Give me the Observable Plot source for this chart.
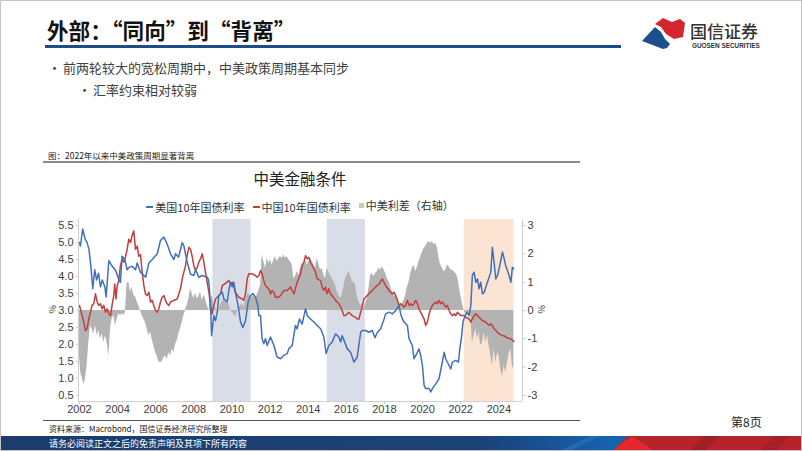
<!DOCTYPE html>
<html><head><meta charset="utf-8">
<script src="https://cdn.jsdelivr.net/npm/d3@7"></script>
<script src="https://cdn.jsdelivr.net/npm/@observablehq/plot@0.6"></script>
<style>
body{margin:0;background:#fff;}
#slide{position:relative;width:802px;height:451px;overflow:hidden;background:#fff;font-family:"Noto Sans CJK SC","Noto Sans",sans-serif;}
.abs{position:absolute;white-space:nowrap;}
#border{position:absolute;left:0;top:0;width:800px;height:449px;border:1px solid #c4c4c4;pointer-events:none;}
.lg{display:inline-flex;align-items:center;margin:0 4px;}
.lg i{display:inline-block;width:7px;height:2px;margin-right:2px;}
</style></head><body>
<div id="slide">
  <div class="abs" style="left:47px;top:17px;font-size:21.6px;font-weight:700;color:#111;line-height:26px;">外部：“同向”到“背离”</div>
  <div class="abs" style="left:45px;top:45px;width:576px;height:3px;background:#1d4c86;"></div>
  <svg class="abs" style="left:630px;top:12px;" width="170" height="42">
    <polygon points="25,12 33,6 42,10 50,7 55,11 53,25 44,27 36,22 31,15" fill="#d7252f"/>
    <polygon points="12,29 25,15 31,20 35,27 40,32 37,36 33,37" fill="#1d4f8c"/>
    <text x="60" y="26" font-size="17" font-weight="500" fill="#333" font-family="Noto Sans CJK SC">国信证券</text>
    <text x="62" y="36" font-size="6.4" font-weight="700" fill="#333" font-family="Liberation Sans, Arial">GUOSEN SECURITIES</text>
  </svg>
  <div class="abs" style="left:48px;top:58px;font-size:13px;color:#404040;line-height:20px;">•</div>
  <div class="abs" style="left:63px;top:58px;font-size:13px;color:#404040;line-height:20px;">前两轮较大的宽松周期中，中美政策周期基本同步</div>
  <div class="abs" style="left:78px;top:80px;font-size:13px;color:#404040;line-height:20px;">•</div>
  <div class="abs" style="left:93px;top:80px;font-size:13px;color:#404040;line-height:20px;">汇率约束相对较弱</div>
  <div class="abs" style="left:48px;top:149px;font-size:8.5px;color:#222;line-height:12px;">图：2022年以来中美政策周期显著背离</div>
  <div class="abs" style="left:43px;top:161px;width:537px;height:2px;background:#8c8c8c;"></div>
  <div class="abs" style="left:40px;top:168px;width:520px;text-align:center;font-size:15.5px;color:#222;line-height:20px;">中美金融条件</div>
  <div class="abs" style="left:40px;top:196px;width:520px;text-align:center;font-size:11px;color:#333;line-height:15px;">
    <span class="lg"><i style="background:#4270b8"></i>美国10年国债利率</span><span class="lg"><i style="background:#c0403f"></i>中国10年国债利率</span><span class="lg"><i style="background:#c8c8c8;width:5px;height:5px"></i>中美利差（右轴）</span>
  </div>
  <div class="abs" style="left:48px;top:303px;font-size:9px;color:#333;transform:rotate(90deg);">%</div>
  <div class="abs" style="left:537px;top:303px;font-size:9px;color:#333;transform:rotate(90deg);">%</div>
  <div id="chart" class="abs" style="left:40px;top:212px;"></div>
  <div class="abs" style="left:43px;top:420px;width:537px;height:1px;background:#555;"></div>
  <div class="abs" style="left:49px;top:423px;font-size:8px;color:#222;line-height:11px;">资料来源：Macrobond，国信证券经济研究所整理</div>
  <div class="abs" style="left:731px;top:414px;font-size:12px;color:#222;line-height:16px;">第8页</div>
  <svg class="abs" style="left:0;top:436px;" width="802" height="15">
    <defs><linearGradient id="bg" x1="0" x2="1"><stop offset="0" stop-color="#1b3c6c"/><stop offset="0.6" stop-color="#1b4278"/><stop offset="0.78" stop-color="#1466b6"/></linearGradient></defs>
    <rect x="0" y="0" width="802" height="15" fill="url(#bg)"/>
    <polygon points="560,15 590,0 600,0 570,15" fill="#2a74c4" opacity="0.6"/>
    <polygon points="612,15 628,0 802,0 802,15" fill="#b5232b"/>
    <polygon points="612,15 632,0 654,15" fill="#e5262e"/>
    <polygon points="690,15 705,0 720,0 705,15" fill="#9a1d24" opacity="0.7"/>
    <polygon points="760,15 775,0 790,0 775,15" fill="#9a1d24" opacity="0.6"/>
    <text x="49" y="11" font-size="9" fill="#fff" font-family="Noto Sans CJK SC">请务必阅读正文之后的免责声明及其项下所有内容</text>
  </svg>
  <div id="border"></div>
</div>
<script>
// ---- data (decimal year, value) ----
const xDomain = [2001.95, 2025.24];
const leftDomain = [0.32, 5.68];
const xTicks = [2002, 2004, 2006, 2008, 2010, 2012, 2014, 2016, 2018, 2020, 2022, 2024];
const leftTicks = [0.5, 1.0, 1.5, 2.0, 2.5, 3.0, 3.5, 4.0, 4.5, 5.0, 5.5];
const rightTicks = [-3, -2, -1, 0, 1, 2, 3];
const easingPeriods = [[2009.0, 2011.0], [2015.0, 2017.0]];
const divergencePeriods = [[2022.18, 2024.8]];

const us10y = [
[2002.0,5.0],[2002.05,4.9],[2002.17,5.4],[2002.3,5.1],[2002.4,5.0],[2002.5,4.8],[2002.6,4.3],[2002.7,3.64],[2002.8,4.2],[2002.9,3.9],
[2003.0,4.1],[2003.1,3.7],[2003.2,3.9],[2003.33,3.7],[2003.4,3.4],[2003.54,4.47],[2003.72,4.3],[2003.9,4.18],[2004.07,3.9],[2004.15,3.83],
[2004.24,4.6],[2004.38,4.5],[2004.5,4.2],[2004.6,4.27],[2004.77,4.3],[2004.94,4.2],[2005.03,4.4],[2005.2,4.13],[2005.38,4.03],[2005.47,3.98],
[2005.64,4.4],[2005.82,4.5],[2006.08,4.67],[2006.25,5.06],[2006.43,5.16],[2006.6,4.96],[2006.78,4.67],[2006.95,4.5],[2007.04,4.67],[2007.2,4.57],
[2007.39,5.0],[2007.48,4.9],[2007.65,4.42],[2007.83,4.07],[2008.0,4.03],[2008.09,4.2],[2008.26,3.98],[2008.44,4.03],[2008.7,3.98],[2008.75,3.93],
[2008.79,3.83],[2008.88,3.15],[2008.93,2.26],[2009.05,2.85],[2009.14,2.7],[2009.23,2.95],[2009.31,3.44],[2009.49,3.54],[2009.58,3.34],[2009.75,3.25],
[2009.84,3.6],[2009.92,3.83],[2010.01,3.7],[2010.1,3.83],[2010.18,3.54],[2010.32,3.15],[2010.45,2.66],[2010.57,2.5],[2010.71,2.7],[2010.85,3.25],
[2010.97,3.44],[2011.1,3.5],[2011.23,3.4],[2011.36,3.15],[2011.41,2.85],[2011.5,2.85],[2011.58,2.17],[2011.67,2.02],[2011.76,2.17],[2011.85,1.97],
[2012.02,2.22],[2012.2,1.97],[2012.37,1.63],[2012.55,1.58],[2012.72,1.68],[2012.9,1.73],[2012.98,1.87],[2013.16,1.97],[2013.33,2.56],[2013.42,2.46],
[2013.54,2.75],[2013.68,2.6],[2013.86,3.05],[2013.95,2.85],[2014.12,2.75],[2014.3,2.66],[2014.47,2.56],[2014.65,2.46],[2014.82,2.22],[2014.94,1.73],
[2015.08,1.97],[2015.26,2.07],[2015.43,2.31],[2015.61,2.22],[2015.7,2.07],[2015.78,2.26],[2016.05,1.87],[2016.22,1.77],[2016.4,1.48],[2016.57,1.63],
[2016.75,2.36],[2016.83,2.41],[2017.01,2.41],[2017.18,2.36],[2017.36,2.41],[2017.5,2.2],[2017.63,2.36],[2017.8,2.46],[2017.98,2.75],[2018.06,2.9],
[2018.24,2.95],[2018.41,2.9],[2018.59,3.0],[2018.76,3.15],[2018.85,2.9],[2018.94,2.75],[2019.03,2.66],[2019.2,2.56],[2019.29,2.17],[2019.46,1.97],
[2019.55,1.58],[2019.64,1.68],[2019.73,1.77],[2019.81,1.87],[2019.9,1.68],[2019.99,1.38],[2020.08,0.79],[2020.16,0.7],[2020.34,0.7],[2020.43,0.6],
[2020.51,0.7],[2020.69,0.84],[2020.86,0.99],[2021.0,1.38],[2021.13,1.77],[2021.21,1.58],[2021.39,1.38],[2021.48,1.28],[2021.56,1.48],[2021.74,1.53],
[2021.88,1.48],[2021.95,1.87],[2022.05,2.26],[2022.12,2.66],[2022.23,2.85],[2022.35,2.95],[2022.44,2.85],[2022.53,3.15],[2022.61,4.03],[2022.7,4.13],
[2022.79,3.83],[2022.88,3.93],[2022.96,3.64],[2023.05,3.83],[2023.14,3.49],[2023.23,3.54],[2023.4,3.83],[2023.58,4.13],[2023.66,4.86],[2023.75,4.42],
[2023.84,3.93],[2023.93,4.03],[2024.01,4.23],[2024.19,4.72],[2024.28,4.52],[2024.36,4.32],[2024.54,4.03],[2024.63,3.83],[2024.71,4.27],[2024.78,4.23]
];

const china10y = [
[2002.0,3.15],[2002.14,2.85],[2002.23,2.66],[2002.31,2.41],[2002.4,2.46],[2002.49,2.75],[2002.58,2.95],[2002.66,3.15],[2002.75,3.2],[2002.84,3.49],
[2002.93,3.25],[2003.01,3.15],[2003.1,3.2],[2003.19,3.05],[2003.28,3.15],[2003.36,2.95],[2003.45,3.05],[2003.54,2.9],[2003.63,2.85],[2003.71,3.15],
[2003.8,3.44],[2003.85,3.78],[2003.92,3.34],[2003.98,3.73],[2004.06,3.88],[2004.15,4.32],[2004.24,4.52],[2004.33,4.42],[2004.41,4.57],[2004.5,4.8],
[2004.59,5.1],[2004.68,5.0],[2004.76,5.2],[2004.85,5.35],[2004.94,4.8],[2005.03,4.9],[2005.11,4.6],[2005.2,4.65],[2005.29,4.13],[2005.38,3.73],
[2005.46,3.49],[2005.55,3.44],[2005.64,3.54],[2005.73,3.25],[2005.81,3.3],[2005.9,3.15],[2005.99,3.0],[2006.08,2.95],[2006.16,3.05],[2006.25,3.25],
[2006.34,3.39],[2006.43,3.44],[2006.51,3.3],[2006.6,3.2],[2006.69,3.15],[2006.78,3.25],[2006.95,3.3],[2007.13,3.34],[2007.3,3.64],[2007.39,3.93],
[2007.56,4.32],[2007.65,4.62],[2007.74,4.86],[2007.83,4.8],[2007.91,4.6],[2008.0,4.32],[2008.09,4.18],[2008.18,4.27],[2008.26,4.42],[2008.35,4.52],
[2008.44,4.67],[2008.53,4.42],[2008.61,4.13],[2008.7,3.83],[2008.79,3.54],[2008.88,3.1],[2008.96,2.9],[2009.05,3.15],[2009.14,3.34],[2009.31,3.44],
[2009.4,3.49],[2009.49,3.73],[2009.66,3.8],[2009.83,3.88],[2009.92,3.78],[2010.01,3.83],[2010.1,3.69],[2010.18,3.54],[2010.36,3.39],[2010.53,3.34],
[2010.62,3.3],[2010.71,3.49],[2010.8,3.93],[2010.88,4.08],[2011.06,4.08],[2011.23,4.03],[2011.32,3.98],[2011.41,4.03],[2011.5,4.18],[2011.58,4.08],
[2011.67,3.88],[2011.76,3.73],[2011.93,3.64],[2012.02,3.49],[2012.11,3.59],[2012.2,3.54],[2012.28,3.39],[2012.46,3.39],[2012.55,3.44],[2012.72,3.59],
[2012.9,3.59],[2013.07,3.69],[2013.16,3.59],[2013.25,3.49],[2013.42,3.83],[2013.6,4.08],[2013.68,4.32],[2013.77,4.42],[2013.86,4.62],[2013.95,4.52],
[2014.03,4.57],[2014.12,4.42],[2014.21,4.32],[2014.3,4.23],[2014.38,4.13],[2014.47,3.93],[2014.65,3.88],[2014.73,3.69],[2014.82,3.59],[2014.91,3.69],
[2014.99,3.49],[2015.08,3.64],[2015.17,3.49],[2015.26,3.44],[2015.43,3.3],[2015.61,3.2],[2015.78,3.0],[2015.87,2.85],[2015.96,2.85],[2016.13,2.95],
[2016.31,2.85],[2016.48,2.8],[2016.57,2.75],[2016.66,2.75],[2016.75,2.95],[2016.83,3.1],[2016.92,3.34],[2017.01,3.39],[2017.18,3.49],[2017.36,3.59],
[2017.53,3.69],[2017.71,3.78],[2017.89,3.93],[2018.06,3.73],[2018.24,3.59],[2018.41,3.49],[2018.5,3.54],[2018.59,3.44],[2018.68,3.3],[2018.76,3.15],
[2018.85,3.2],[2018.94,3.15],[2019.03,3.1],[2019.11,3.15],[2019.2,3.3],[2019.29,3.15],[2019.38,3.2],[2019.46,3.15],[2019.55,3.2],[2019.64,3.3],
[2019.73,3.2],[2019.81,3.05],[2019.99,2.85],[2020.08,2.75],[2020.16,2.56],[2020.25,2.66],[2020.34,2.9],[2020.43,3.05],[2020.51,3.15],[2020.69,3.25],
[2020.78,3.2],[2020.86,3.3],[2020.95,3.2],[2021.04,3.25],[2021.21,3.1],[2021.3,3.15],[2021.39,3.0],[2021.48,2.9],[2021.56,2.85],[2021.65,2.9],
[2021.74,2.85],[2021.83,2.95],[2021.91,2.9],[2022.0,2.85],[2022.18,2.85],[2022.26,2.8],[2022.44,2.75],[2022.53,2.66],[2022.61,2.75],[2022.7,2.85],
[2022.79,2.9],[2022.88,2.85],[2022.96,2.8],[2023.14,2.7],[2023.31,2.66],[2023.4,2.61],[2023.49,2.56],[2023.58,2.61],[2023.66,2.56],[2023.75,2.46],
[2023.93,2.36],[2024.01,2.31],[2024.19,2.26],[2024.28,2.26],[2024.36,2.22],[2024.54,2.17],[2024.63,2.17],[2024.78,2.09]
];

// 中美利差 (right axis, percentage points)
const spread = [
[2002.0,-1.6],[2002.07,-2.2],[2002.19,-2.5],[2002.23,-2.62],[2002.31,-2.44],[2002.4,-1.96],[2002.49,-1.13],[2002.58,-0.54],[2002.66,-0.65],[2002.75,-0.83],
[2002.84,-0.54],[2002.93,-0.89],[2003.01,-0.71],[2003.1,-1.01],[2003.19,-0.83],[2003.28,-1.13],[2003.36,-0.89],[2003.45,-1.13],[2003.54,-1.61],[2003.63,-0.65],
[2003.71,-0.3],[2003.8,-0.18],[2003.89,-0.54],[2003.98,-0.3],[2004.06,-0.12],[2004.15,-0.18],[2004.24,-0.12],[2004.33,-0.18],[2004.41,-0.06],[2004.5,0.95],
[2004.59,1.01],[2004.68,0.65],[2004.76,0.83],[2004.85,0.54],[2004.94,0.48],[2005.03,0.3],[2005.11,0.18],[2005.2,0],[2005.29,-0.18],[2005.38,-0.3],
[2005.46,-0.42],[2005.55,-0.65],[2005.64,-0.89],[2005.73,-0.77],[2005.81,-1.01],[2005.9,-1.25],[2005.99,-1.49],[2006.08,-1.61],[2006.16,-1.79],[2006.25,-1.85],
[2006.34,-1.79],[2006.43,-1.67],[2006.51,-1.61],[2006.6,-1.73],[2006.69,-1.49],[2006.78,-1.61],[2006.86,-1.37],[2006.95,-1.49],[2007.04,-1.19],[2007.13,-1.07],
[2007.21,-0.83],[2007.3,-0.65],[2007.39,-0.42],[2007.48,-0.18],[2007.56,0],[2007.65,0.18],[2007.74,0.42],[2007.83,0.77],[2007.91,0.6],[2008.0,0.42],
[2008.09,0.6],[2008.18,0.42],[2008.26,0.48],[2008.35,0.65],[2008.44,0.36],[2008.53,0.54],[2008.61,0.42],[2008.7,0.18],[2008.79,0],[2008.88,0.3],
[2008.96,0.54],[2009.05,0.24],[2009.14,0.12],[2009.23,-0.06],[2009.31,0],[2009.4,0.18],[2009.49,0.3],[2009.58,0.42],[2009.66,0.3],[2009.84,0.24],
[2009.92,0],[2010.01,-0.06],[2010.1,-0.12],[2010.18,-0.24],[2010.27,-0.06],[2010.36,0.06],[2010.45,0.18],[2010.53,0.24],[2010.62,0.12],[2010.71,0.3],
[2010.8,0.54],[2010.88,0.6],[2010.97,0.42],[2011.06,0.48],[2011.15,0.54],[2011.23,0.42],[2011.32,0.54],[2011.41,0.71],[2011.5,0.89],[2011.58,1.96],
[2011.67,1.73],[2011.76,1.49],[2011.85,1.85],[2011.93,1.67],[2012.02,1.79],[2012.11,1.61],[2012.2,1.79],[2012.28,1.9],[2012.37,1.73],[2012.46,1.85],
[2012.55,1.9],[2012.63,1.85],[2012.72,1.96],[2012.81,1.85],[2012.9,1.9],[2012.98,1.79],[2013.07,1.73],[2013.16,1.61],[2013.25,1.13],[2013.33,1.19],
[2013.42,1.37],[2013.51,1.25],[2013.6,1.49],[2013.68,1.67],[2013.77,1.61],[2013.86,1.79],[2013.95,1.61],[2014.03,1.73],[2014.12,1.85],[2014.21,1.73],
[2014.3,1.61],[2014.38,1.49],[2014.47,1.85],[2014.56,1.61],[2014.65,1.43],[2014.73,1.49],[2014.82,1.25],[2014.91,1.13],[2014.99,1.49],[2015.08,1.37],
[2015.17,1.25],[2015.26,1.13],[2015.35,1.01],[2015.43,0.89],[2015.52,0.65],[2015.61,0.54],[2015.7,0.42],[2015.78,0.54],[2015.87,0.83],[2015.96,1.13],
[2016.05,1.25],[2016.13,1.37],[2016.22,1.25],[2016.31,1.01],[2016.4,1.01],[2016.48,0.89],[2016.57,0.54],[2016.66,0.3],[2016.75,0.18],[2016.83,0.24],
[2016.92,0.06],[2017.01,0.24],[2017.1,0.42],[2017.18,0.77],[2017.27,1.25],[2017.36,1.31],[2017.44,1.19],[2017.53,1.31],[2017.62,1.37],[2017.71,1.49],
[2017.8,1.43],[2017.89,1.55],[2017.98,1.43],[2018.06,1.31],[2018.15,1.13],[2018.24,1.01],[2018.33,0.83],[2018.41,0.65],[2018.5,0.54],[2018.59,0.48],
[2018.68,0.42],[2018.76,0.3],[2018.85,0.18],[2018.94,0.24],[2019.03,0.36],[2019.11,0.54],[2019.2,0.83],[2019.29,1.01],[2019.38,1.31],[2019.46,1.49],
[2019.55,1.61],[2019.64,1.37],[2019.73,1.55],[2019.81,1.73],[2019.9,1.9],[2019.99,2.08],[2020.08,2.2],[2020.16,2.26],[2020.25,2.38],[2020.34,2.44],
[2020.43,2.38],[2020.51,2.44],[2020.6,2.32],[2020.69,2.38],[2020.78,2.2],[2020.86,1.85],[2020.95,1.61],[2021.04,1.49],[2021.13,1.37],[2021.21,1.43],
[2021.3,1.61],[2021.39,1.55],[2021.48,1.43],[2021.56,1.43],[2021.65,1.37],[2021.74,1.31],[2021.83,1.19],[2021.91,0.89],[2022.0,0.54],[2022.09,0.24],
[2022.18,0],[2022.26,-0.12],[2022.35,-0.18],[2022.44,-0.06],[2022.53,-0.18],[2022.61,-1.13],[2022.7,-0.89],[2022.79,-0.65],[2022.88,-1.01],[2022.96,-0.77],
[2023.05,-1.25],[2023.14,-1.13],[2023.23,-0.77],[2023.31,-1.13],[2023.4,-0.89],[2023.49,-1.25],[2023.58,-1.61],[2023.66,-1.96],[2023.75,-1.37],[2023.84,-1.85],
[2023.93,-1.49],[2024.01,-1.61],[2024.1,-2.08],[2024.19,-2.32],[2024.28,-1.96],[2024.36,-2.2],[2024.45,-1.85],[2024.54,-1.49],[2024.63,-1.37],[2024.71,-1.96],
[2024.78,-2.08]
];

// right axis (spread) is drawn on the left scale: 0 -> 3.0, ±3 -> 5.5 / 0.5
const K = 2.5 / 3;
const toLeft = s => 3 + s * K;
const fmtRight = v => { const s = Math.round((v - 3) / K); return s < 0 ? "-" + Math.abs(s) : String(s); };
const AX = "#cfcfcf";

const chart = Plot.plot({
  width: 520, height: 215,
  marginLeft: 38, marginRight: 38, marginTop: 7, marginBottom: 26,
  style: {fontFamily: "'Liberation Sans', Arial, sans-serif", fontSize: "11px", color: "#404040", background: "transparent", overflow: "visible"},
  x: {domain: xDomain},
  y: {domain: leftDomain},
  marks: [
    Plot.rect(easingPeriods, {x1: d => d[0], x2: d => d[1], y1: leftDomain[0], y2: leftDomain[1], fill: "#d9dde7"}),
    Plot.rect(divergencePeriods, {x1: d => d[0], x2: d => d[1], y1: leftDomain[0], y2: leftDomain[1], fill: "#fce4d3"}),
    Plot.areaY(spread, {x: d => d[0], y1: 3, y2: d => toLeft(d[1]), fill: "#b3b3b3"}),
    Plot.lineY(china10y, {x: d => d[0], y: d => d[1], stroke: "#c0403f", strokeWidth: 1.5}),
    Plot.lineY(us10y, {x: d => d[0], y: d => d[1], stroke: "#4270b8", strokeWidth: 1.5}),
    Plot.ruleX(xDomain, {stroke: AX}),
    Plot.ruleY([leftDomain[0]], {stroke: AX}),
    Plot.axisX({ticks: xTicks, tickFormat: d => String(d), tickSize: 3, tickPadding: 1, stroke: AX, label: null}),
    Plot.axisY({anchor: "left", ticks: leftTicks, tickFormat: d => d.toFixed(1), tickSize: 2, tickPadding: 3, stroke: AX, label: null}),
    Plot.axisY({anchor: "right", ticks: rightTicks.map(toLeft), tickFormat: fmtRight, tickSize: 3, tickPadding: 2, stroke: AX, label: null})
  ]
});
document.getElementById("chart").appendChild(chart);
</script>
</body></html>
